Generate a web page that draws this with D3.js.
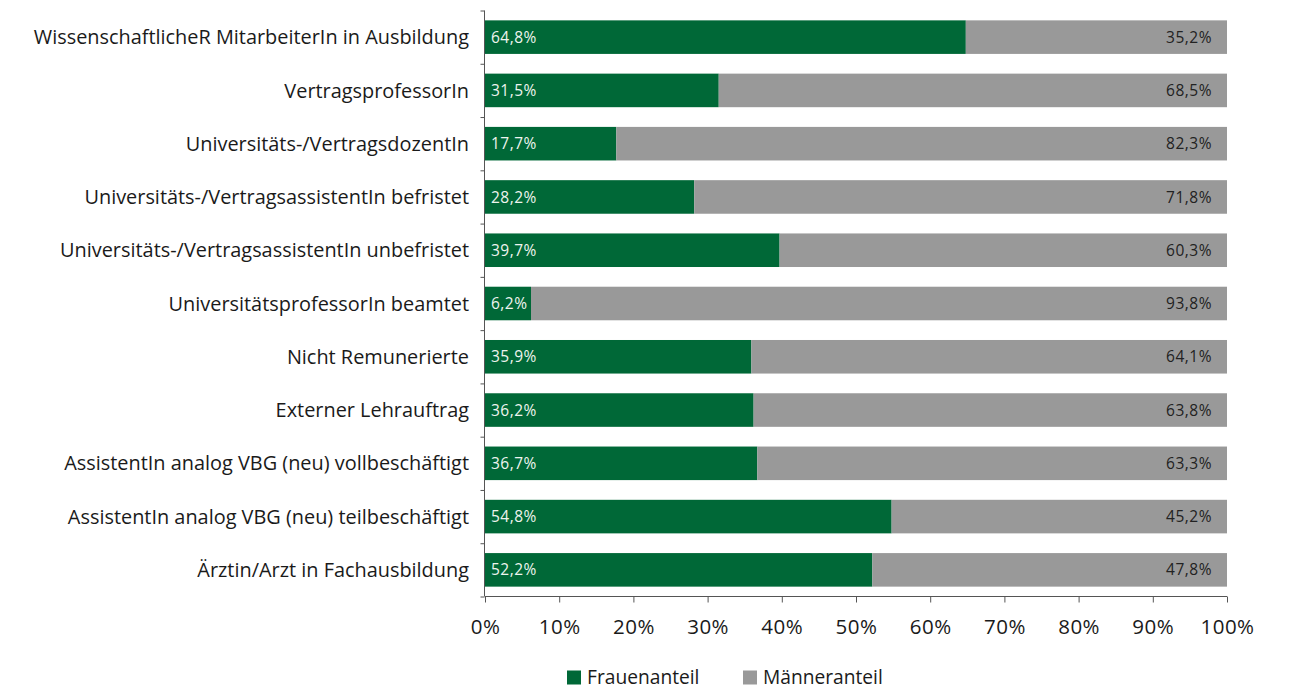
<!DOCTYPE html>
<html><head><meta charset="utf-8">
<script src="https://cdn.jsdelivr.net/npm/d3@7"></script>
<style>
body{margin:0;background:#fff;}
svg{display:block;font-family:"Open Sans",sans-serif;}
</style></head>
<body><svg id="c" width="1290" height="689"></svg>
<script>
const categories = [
  "WissenschaftlicheR MitarbeiterIn in Ausbildung",
  "VertragsprofessorIn",
  "Universitäts-/VertragsdozentIn",
  "Universitäts-/VertragsassistentIn befristet",
  "Universitäts-/VertragsassistentIn unbefristet",
  "UniversitätsprofessorIn beamtet",
  "Nicht Remunerierte",
  "Externer Lehrauftrag",
  "AssistentIn analog VBG (neu) vollbeschäftigt",
  "AssistentIn analog VBG (neu) teilbeschäftigt",
  "Ärztin/Arzt in Fachausbildung"
];
const frauen = [64.8, 31.5, 17.7, 28.2, 39.7, 6.2, 35.9, 36.2, 36.7, 54.8, 52.2];
const maenner = [35.2, 68.5, 82.3, 71.8, 60.3, 93.8, 64.1, 63.8, 63.3, 45.2, 47.8];
const seriesNames = ["Frauenanteil", "Männeranteil"];
const tickValues = [0,10,20,30,40,50,60,70,80,90,100];

const colors = ["#006837", "#999999"];
const svg = d3.select("#c");
const x = d3.scaleLinear().domain([0,100]).range([485,1227]);
const y = d3.scaleBand().domain(categories).range([10.5,596.5]).paddingInner(0.37).paddingOuter(0.185);
const yb = d3.scaleLinear().domain([0,categories.length]).range([10.5,596.5]);
const fmt = v => d3.format(".1f")(v).replace(".", ",") + "%";

const rows = categories.map((c,i)=>({c, f:frauen[i], m:maenner[i]}));

// bars
svg.append("g").selectAll("rect.f").data(rows).join("rect")
  .attr("x", x(0)).attr("y", d=>y(d.c)).attr("height", y.bandwidth())
  .attr("width", d=>x(d.f)-x(0)).attr("fill", colors[0]);
svg.append("g").selectAll("rect.m").data(rows).join("rect")
  .attr("x", d=>x(d.f)).attr("y", d=>y(d.c)).attr("height", y.bandwidth())
  .attr("width", d=>x(d.f+d.m)-x(d.f)).attr("fill", colors[1]);

// value labels
svg.append("g").selectAll("text").data(rows).join("text")
  .attr("x", x(0)+6).attr("y", d=>y(d.c)+y.bandwidth()/2).attr("dy","0.36em")
  .attr("font-size","15.5px").attr("fill","#eef4ee").attr("letter-spacing","0.5px")
  .text(d=>fmt(d.f));
svg.append("g").selectAll("text").data(rows).join("text")
  .attr("x", x(100)-15).attr("y", d=>y(d.c)+y.bandwidth()/2).attr("dy","0.36em")
  .attr("text-anchor","end")
  .attr("font-size","15.5px").attr("fill","#222").attr("letter-spacing","0.5px")
  .text(d=>fmt(d.m));

// y axis (boundary ticks)
const ya = svg.append("g").attr("transform","translate(484.5,0)")
  .call(d3.axisLeft(yb).tickValues(d3.range(0,categories.length+1)).tickSize(4).tickFormat(""));
ya.selectAll("path,line").attr("stroke","#555");
ya.select(".domain").attr("d","M0,10.5V596.5");

// category labels
svg.append("g").selectAll("text").data(categories).join("text")
  .attr("x", 469).attr("y", d=>y(d)+y.bandwidth()/2).attr("dy","0.36em")
  .attr("text-anchor","end").attr("font-size","19.9px").attr("fill","#1a1a1a")
  .text(d=>d);

// x axis
const xa = svg.append("g").attr("transform","translate(0,596.5)")
  .call(d3.axisBottom(x).tickValues(tickValues).tickSize(6).tickSizeOuter(0).tickFormat(d=>d+"%"));
xa.selectAll("path,line").attr("stroke","#555");
xa.select(".domain").attr("d","M485,0H1227");
xa.selectAll("text").attr("font-size","20.5px").attr("fill","#1a1a1a").attr("y",23).attr("dy","0.71em")
  .attr("font-family","'Open Sans',sans-serif").attr("letter-spacing","0.5px");

// legend
const lg = svg.append("g");
const legX = [567, 743];
seriesNames.forEach((n,i)=>{
  lg.append("rect").attr("x",legX[i]).attr("y",670.5).attr("width",14).attr("height",14).attr("fill",colors[i]);
  lg.append("text").attr("x",legX[i]+20).attr("y",677.5).attr("dy","0.36em")
    .attr("font-size","19.2px").attr("fill","#1a1a1a").text(n);
});
</script></body></html>
